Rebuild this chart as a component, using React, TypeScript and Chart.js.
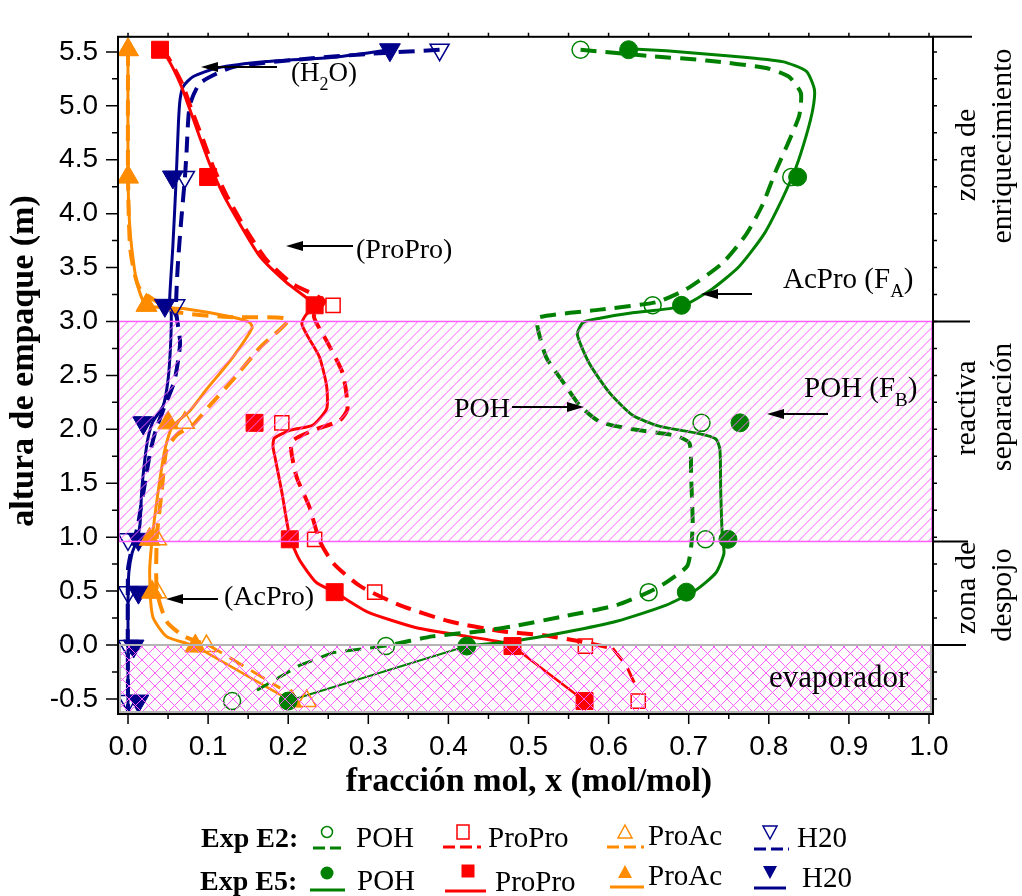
import React, { useEffect, useRef } from 'react';
import { Chart, registerables } from 'chart.js';

Chart.register(...registerables);

// ---------- axis ticks ----------
const xTickValues = [0, 0.1, 0.2, 0.3, 0.4, 0.5, 0.6, 0.7, 0.8, 0.9, 1.0];
const yTickValues = [-0.5, 0, 0.5, 1, 1.5, 2, 2.5, 3, 3.5, 4, 4.5, 5, 5.5];

// ---------- column zones (m) ----------
const reactiveZone = [0.96, 3.0];
const evaporatorZone = [-0.64, 0.0];
const bracketLevels = [5.64, 3.0, 0.96, 0.0];

// ---------- experimental stage heights (m) ----------
const stageHeights = [5.52, 4.34, 3.15, 2.06, 0.98, 0.49, -0.01, -0.52];

// Exp E5 (filled markers)
const pohE5 = [0.625, 0.836, 0.691, 0.764, 0.749, 0.697, 0.423, 0.2];
const proproE5 = [0.04, 0.1, 0.233, 0.158, 0.202, 0.258, 0.48, 0.57];
const proacE5 = [0.0, 0.0, 0.023, 0.05, 0.027, 0.03, 0.084, 0.204];
const h2oE5 = [0.327, 0.056, 0.046, 0.019, 0.013, 0.013, 0.007, 0.013];

// Exp E2 (open markers)
const pohE2 = [0.565, 0.828, 0.655, 0.716, 0.721, 0.65, 0.322, 0.13];
const proproE2 = [0.04, 0.1, 0.256, 0.192, 0.233, 0.308, 0.571, 0.637];
const proacE2 = [0.0, 0.0, 0.023, 0.071, 0.036, 0.036, 0.098, 0.223];
const h2oE2 = [0.389, 0.071, 0.059, 0.019, 0.0, 0.0, 0.0, 0.0];

// ---------- simulated profiles [x, height] ----------
const pohE5Profile: number[][] = [
  [0.625, 5.53], [0.672, 5.51], [0.755, 5.46], [0.817, 5.41], [0.847, 5.32], [0.857, 5.15],
  [0.855, 4.97], [0.847, 4.73], [0.834, 4.43], [0.817, 4.14], [0.794, 3.81], [0.763, 3.51],
  [0.729, 3.3], [0.691, 3.14], [0.63, 3.08], [0.589, 3.03], [0.568, 2.99], [0.561, 2.88],
  [0.576, 2.61], [0.601, 2.34], [0.63, 2.13], [0.663, 2.03], [0.713, 1.96], [0.734, 1.91],
  [0.739, 1.81], [0.74, 1.42], [0.742, 1.0], [0.744, 0.85], [0.734, 0.67], [0.709, 0.51],
  [0.672, 0.37], [0.61, 0.22], [0.547, 0.12], [0.485, 0.04], [0.423, -0.01],
];
const pohE5Evap: number[][] = [[0.423, -0.01], [0.2, -0.52]];

const pohE2Profile: number[][] = [
  [0.565, 5.52], [0.655, 5.46], [0.722, 5.42], [0.797, 5.35], [0.825, 5.27], [0.84, 5.12],
  [0.838, 4.91], [0.825, 4.67], [0.809, 4.4], [0.792, 4.08], [0.772, 3.81], [0.742, 3.54],
  [0.697, 3.3], [0.66, 3.18], [0.589, 3.11], [0.514, 3.04], [0.511, 2.96], [0.522, 2.67],
  [0.543, 2.44], [0.564, 2.22], [0.589, 2.07], [0.63, 2.0], [0.684, 1.94], [0.701, 1.87],
  [0.703, 1.57], [0.705, 1.12], [0.703, 0.91], [0.698, 0.73], [0.672, 0.58], [0.65, 0.49],
  [0.61, 0.37], [0.547, 0.27], [0.485, 0.18], [0.443, 0.13], [0.38, 0.08], [0.322, -0.01],
];
const pohE2Evap: number[][] = [[0.322, -0.01], [0.256, -0.07], [0.214, -0.19], [0.161, -0.42]];

const proproE5Profile: number[][] = [
  [0.04, 5.52], [0.048, 5.46], [0.065, 5.21], [0.077, 4.97], [0.09, 4.7], [0.102, 4.46],
  [0.118, 4.19], [0.14, 3.9], [0.165, 3.6], [0.198, 3.36], [0.233, 3.15], [0.222, 3.06],
  [0.217, 2.98], [0.223, 2.88], [0.239, 2.67], [0.248, 2.4], [0.248, 2.19], [0.231, 2.04],
  [0.202, 1.99], [0.183, 1.92], [0.181, 1.84], [0.183, 1.76], [0.192, 1.42], [0.202, 1.0],
  [0.214, 0.79], [0.235, 0.58], [0.258, 0.49], [0.298, 0.31], [0.36, 0.16], [0.423, 0.08],
  [0.464, 0.03], [0.48, -0.01],
];
const proproE5Evap: number[][] = [[0.48, -0.01], [0.57, -0.52]];

const proproE2Profile: number[][] = [
  [0.04, 5.52], [0.05, 5.45], [0.068, 5.2], [0.08, 4.95], [0.094, 4.68], [0.106, 4.44],
  [0.123, 4.17], [0.145, 3.88], [0.172, 3.58], [0.205, 3.35], [0.245, 3.19], [0.232, 3.05],
  [0.248, 2.82], [0.268, 2.52], [0.274, 2.19], [0.264, 2.08], [0.231, 1.99], [0.204, 1.88],
  [0.21, 1.57], [0.227, 1.27], [0.239, 0.97], [0.256, 0.76], [0.289, 0.55], [0.339, 0.37],
  [0.401, 0.22], [0.464, 0.13], [0.518, 0.09], [0.56, 0.04], [0.605, -0.03],
];
const proproE2Evap: number[][] = [[0.605, -0.03], [0.622, -0.19], [0.632, -0.35]];

const proacE5Profile: number[][] = [
  [0.0, 5.52], [0.0, 4.34], [0.002, 3.9], [0.005, 3.66], [0.011, 3.36], [0.023, 3.15],
  [0.069, 3.12], [0.131, 3.04], [0.152, 2.99], [0.155, 2.94], [0.131, 2.67], [0.098, 2.37],
  [0.077, 2.17], [0.055, 2.02], [0.046, 1.81], [0.037, 1.39], [0.03, 0.97], [0.027, 0.67],
  [0.031, 0.26], [0.048, 0.08], [0.073, 0.015], [0.084, -0.01],
];
const proacE5Evap: number[][] = [[0.084, -0.01], [0.204, -0.52]];

const proacE2Profile: number[][] = [
  [0.0, 5.52], [0.0, 4.34], [0.003, 3.66], [0.015, 3.3], [0.061, 3.09], [0.131, 3.04],
  [0.2, 3.02], [0.165, 2.76], [0.131, 2.46], [0.102, 2.22], [0.081, 2.04], [0.061, 1.95],
  [0.048, 1.81], [0.042, 1.42], [0.036, 1.0], [0.036, 0.5], [0.048, 0.22], [0.07, 0.08],
  [0.1, 0.0],
];
const proacE2Evap: number[][] = [[0.1, 0.0], [0.123, -0.1], [0.19, -0.4]];

const h2oE5Profile: number[][] = [
  [0.327, 5.52], [0.256, 5.45], [0.173, 5.41], [0.111, 5.35], [0.081, 5.27], [0.069, 5.18],
  [0.065, 5.06], [0.063, 4.85], [0.06, 4.3], [0.056, 3.7], [0.052, 3.2], [0.054, 3.06],
  [0.053, 2.76], [0.05, 2.46], [0.044, 2.22], [0.031, 2.07], [0.025, 1.92], [0.021, 1.72],
  [0.017, 1.42], [0.015, 1.12], [0.011, 0.97], [0.005, 0.85], [0.001, 0.67], [0.0, 0.37],
  [0.0, -0.64],
];
const h2oE2Profile: number[][] = [
  [0.389, 5.52], [0.298, 5.48], [0.214, 5.43], [0.131, 5.36], [0.09, 5.21], [0.077, 5.0],
  [0.073, 4.56], [0.071, 4.33], [0.066, 3.9], [0.062, 3.5], [0.06, 3.1], [0.065, 2.8],
  [0.058, 2.45], [0.045, 2.2], [0.035, 2.0], [0.028, 1.8], [0.02, 1.45], [0.012, 1.1],
  [0.005, 0.9], [0.0, 0.7], [0.0, -0.64],
];

// ---------- styles ----------
const GREEN = '#008000';
const RED = '#ff0000';
const ORANGE = '#ff8c00';
const NAVY = '#00008b';
const MAGENTA = '#ff5cff';
const SERIF = '"Liberation Serif", "Times New Roman", serif';
const SANS = '"Liberation Sans", Arial, sans-serif';

const toPts = (arr: number[][]) => arr.map(([x, y]) => ({ x, y }));

function lineSet(arr: number[][], color: string, dashed: boolean, width: number, tension = 0.2) {
  return {
    data: toPts(arr),
    showLine: true,
    borderColor: color,
    backgroundColor: color,
    borderWidth: width,
    borderDash: dashed ? [16, 9] : [],
    pointRadius: 0,
    pointHoverRadius: 0,
    tension,
    fill: false,
    order: 2,
  };
}

function markerSet(xs: number[], color: string, style: string, rotation: number, filled: boolean, radius: number) {
  return {
    data: xs.map((x, i) => ({ x, y: stageHeights[i] })),
    showLine: false,
    pointStyle: style,
    pointRotation: rotation,
    pointRadius: radius,
    pointHoverRadius: radius,
    pointBackgroundColor: filled ? color : 'rgba(0,0,0,0)',
    pointBorderColor: color,
    pointBorderWidth: filled ? 1 : 1.5,
    order: filled ? 0 : 1,
  };
}

// hatch lines drawn directly, clipped to the zone rectangle
function hatchRect(ctx: CanvasRenderingContext2D, l: number, t: number, r: number, b: number, spacing: number, cross: boolean) {
  ctx.save();
  ctx.beginPath();
  ctx.rect(l, t, r - l, b - t);
  ctx.clip();
  ctx.strokeStyle = MAGENTA;
  ctx.lineWidth = 1;
  ctx.beginPath();
  const h = b - t;
  for (let x0 = l - h - spacing; x0 < r + spacing; x0 += spacing) {
    ctx.moveTo(x0, b);
    ctx.lineTo(x0 + h, t);
    if (cross) {
      ctx.moveTo(x0, t);
      ctx.lineTo(x0 + h, b);
    }
  }
  ctx.stroke();
  ctx.restore();
}

function arrow(ctx: CanvasRenderingContext2D, x1: number, y1: number, x2: number, y2: number) {
  const dir = Math.sign(x2 - x1);
  ctx.strokeStyle = '#000';
  ctx.fillStyle = '#000';
  ctx.lineWidth = 2;
  ctx.beginPath();
  ctx.moveTo(x1, y1);
  ctx.lineTo(x2 - dir * 10, y2);
  ctx.stroke();
  ctx.beginPath();
  ctx.moveTo(x2, y2);
  ctx.lineTo(x2 - dir * 17, y2 - 5);
  ctx.lineTo(x2 - dir * 17, y2 + 5);
  ctx.closePath();
  ctx.fill();
}

function txt(ctx: CanvasRenderingContext2D, s: string, x: number, y: number, font: string, align: CanvasTextAlign = 'left') {
  ctx.font = font;
  ctx.textAlign = align;
  ctx.textBaseline = 'alphabetic';
  ctx.fillStyle = '#000';
  ctx.fillText(s, x, y);
  return ctx.measureText(s).width;
}

// text with a subscript: [main, sub, main]
function txtSub(ctx: CanvasRenderingContext2D, a: string, sub: string, b: string, x: number, y: number, size: number) {
  let cx = x;
  cx += txt(ctx, a, cx, y, `${size}px ${SERIF}`);
  cx += txt(ctx, sub, cx, y + 9, `${Math.round(size * 0.66)}px ${SERIF}`);
  txt(ctx, b, cx, y, `${size}px ${SERIF}`);
}

function vtxt(ctx: CanvasRenderingContext2D, s: string, x: number, y: number, font: string) {
  ctx.save();
  ctx.translate(x, y);
  ctx.rotate(-Math.PI / 2);
  txt(ctx, s, 0, 0, font, 'center');
  ctx.restore();
}

function legendMarker(ctx: CanvasRenderingContext2D, kind: string, x: number, y: number, color: string, filled: boolean) {
  ctx.save();
  ctx.strokeStyle = color;
  ctx.fillStyle = color;
  ctx.lineWidth = 1.5;
  ctx.beginPath();
  if (kind === 'circle') {
    ctx.arc(x, y, filled ? 6.5 : 5.5, 0, Math.PI * 2);
  } else if (kind === 'square') {
    const h = filled ? 6.5 : 6;
    ctx.rect(x - h, y - h - (filled ? 0 : 1), 2 * h, 2 * h + (filled ? 0 : 2));
  } else if (kind === 'up') {
    ctx.moveTo(x, y - 7); ctx.lineTo(x + 7, y + 6); ctx.lineTo(x - 7, y + 6); ctx.closePath();
  } else {
    ctx.moveTo(x, y + 7); ctx.lineTo(x + 7, y - 6); ctx.lineTo(x - 7, y - 6); ctx.closePath();
  }
  if (filled) ctx.fill(); else ctx.stroke();
  ctx.restore();
}

function legendLine(ctx: CanvasRenderingContext2D, x1: number, x2: number, y: number, color: string, dashed: boolean) {
  ctx.save();
  ctx.strokeStyle = color;
  ctx.lineWidth = 3;
  ctx.setLineDash(dashed ? [12, 5] : []);
  ctx.beginPath();
  ctx.moveTo(x1, y);
  ctx.lineTo(x2, y);
  ctx.stroke();
  ctx.restore();
}

const decorPlugin = {
  id: 'decor',
  afterDatasetsDraw(chart: any) {
    const ctx: CanvasRenderingContext2D = chart.ctx;
    const ca = chart.chartArea;
    const xs = chart.scales.x;
    const ys = chart.scales.y;
    const X = (v: number) => xs.getPixelForValue(v);
    const Y = (v: number) => ys.getPixelForValue(v);
    ctx.save();

    // reactive zone (hatched)
    const rT = Y(reactiveZone[1]);
    const rB = Y(reactiveZone[0]);
    hatchRect(ctx, ca.left, rT, ca.right, rB, 10, false);
    ctx.strokeStyle = MAGENTA;
    ctx.lineWidth = 1.5;
    ctx.strokeRect(ca.left + 1, rT, ca.right - ca.left - 2, rB - rT);

    // evaporator (cross hatched)
    const eT = Y(evaporatorZone[1]);
    const eB = ca.bottom;
    hatchRect(ctx, ca.left, eT, ca.right, eB, 13, true);
    ctx.strokeStyle = '#b4b4b4';
    ctx.lineWidth = 2;
    ctx.strokeRect(ca.left + 2, eT, ca.right - ca.left - 4, eB - eT - 2);

    // frame
    ctx.strokeStyle = '#000';
    ctx.lineWidth = 2;
    ctx.strokeRect(ca.left, ca.top, ca.right - ca.left, ca.bottom - ca.top);

    // ticks
    ctx.lineWidth = 1.5;
    ctx.beginPath();
    xTickValues.forEach((v, i) => {
      const px = X(v);
      ctx.moveTo(px, ca.bottom); ctx.lineTo(px, ca.bottom + 10);
      ctx.moveTo(px, ca.top); ctx.lineTo(px, ca.top - 4);
      if (i < xTickValues.length - 1) {
        const pm = X((v + xTickValues[i + 1]) / 2);
        ctx.moveTo(pm, ca.bottom); ctx.lineTo(pm, ca.bottom + 5);
        ctx.moveTo(pm, ca.top); ctx.lineTo(pm, ca.top - 4);
      }
    });
    yTickValues.forEach((v, i) => {
      const py = Y(v);
      ctx.moveTo(ca.left, py); ctx.lineTo(ca.left - 12, py);
      ctx.moveTo(ca.right, py); ctx.lineTo(ca.right + 4, py);
      if (i < yTickValues.length - 1) {
        const pm = Y((v + yTickValues[i + 1]) / 2);
        ctx.moveTo(ca.left, pm); ctx.lineTo(ca.left - 6, pm);
        ctx.moveTo(ca.right, pm); ctx.lineTo(ca.right + 4, pm);
      }
    });
    ctx.stroke();

    // right-hand zone brackets
    ctx.lineWidth = 2;
    ctx.beginPath();
    const ends = [972, 970, 968, 966];
    bracketLevels.forEach((v, i) => {
      const py = Math.max(Y(v), ca.top);
      ctx.moveTo(ca.right, py);
      ctx.lineTo(ends[i], py);
    });
    ctx.stroke();

    // zone labels (vertical)
    const zf = `30px ${SERIF}`;
    vtxt(ctx, 'zona de', 975, 155, zf);
    vtxt(ctx, 'enriquecimiento', 1011, 146, zf);
    vtxt(ctx, 'reactiva', 975, 408, zf);
    vtxt(ctx, 'separación', 1011, 407, zf);
    vtxt(ctx, 'zona de', 975, 588, zf);
    vtxt(ctx, 'despojo', 1011, 595, zf);

    // annotations
    txtSub(ctx, '(H', '2', 'O)', 291, 81, 27);
    arrow(ctx, 277, 67, 201, 67);
    txt(ctx, '(ProPro)', 356, 258, `28px ${SERIF}`);
    arrow(ctx, 353, 246, 286, 246);
    txtSub(ctx, 'AcPro (F', 'A', ')', 783, 288, 29);
    arrow(ctx, 752, 294, 701, 294);
    txtSub(ctx, 'POH (F', 'B', ')', 804, 397, 29);
    arrow(ctx, 828, 414, 767, 414);
    txt(ctx, 'POH', 454, 417, `28px ${SERIF}`);
    arrow(ctx, 512, 407, 584, 407);
    txt(ctx, '(AcPro)', 224, 605, `28px ${SERIF}`);
    arrow(ctx, 218, 599, 166, 599);
    txt(ctx, 'evaporador', 769, 687, `31px ${SERIF}`);

    // axis titles
    txt(ctx, 'fracción mol, x (mol/mol)', 529, 791, `bold 34px ${SERIF}`, 'center');
    vtxt(ctx, 'altura de empaque (m)', 33, 361, `bold 34px ${SERIF}`);

    // legend
    const lf = `29px ${SERIF}`;
    txt(ctx, 'Exp E2:', 201, 847, `bold 28px ${SERIF}`);
    txt(ctx, 'Exp E5:', 200, 890, `bold 28px ${SERIF}`);
    // E2 row
    legendMarker(ctx, 'circle', 327, 832, GREEN, false);
    legendLine(ctx, 313, 341, 848, GREEN, true);
    txt(ctx, 'POH', 356, 847, lf);
    legendMarker(ctx, 'square', 463, 832, RED, false);
    legendLine(ctx, 443, 481, 847, RED, true);
    txt(ctx, 'ProPro', 488, 847, lf);
    legendMarker(ctx, 'up', 625, 832, ORANGE, false);
    legendLine(ctx, 607, 644, 847, ORANGE, true);
    txt(ctx, 'ProAc', 648, 845, lf);
    legendMarker(ctx, 'down', 770, 832, NAVY, false);
    legendLine(ctx, 754, 789, 849, NAVY, true);
    txt(ctx, 'H20', 797, 847, lf);
    // E5 row
    legendMarker(ctx, 'circle', 327, 873, GREEN, true);
    legendLine(ctx, 310, 345, 890, GREEN, false);
    txt(ctx, 'POH', 357, 890, lf);
    legendMarker(ctx, 'square', 468, 871, RED, true);
    legendLine(ctx, 445, 486, 891, RED, false);
    txt(ctx, 'ProPro', 495, 891, lf);
    legendMarker(ctx, 'up', 625, 872, ORANGE, true);
    legendLine(ctx, 610, 644, 887, ORANGE, false);
    txt(ctx, 'ProAc', 648, 885, lf);
    legendMarker(ctx, 'down', 770, 872, NAVY, true);
    legendLine(ctx, 754, 786, 888, NAVY, false);
    txt(ctx, 'H20', 802, 887, lf);

    ctx.restore();
  },
};

export default function App() {
  const canvasRef = useRef<HTMLCanvasElement | null>(null);

  useEffect(() => {
    const canvas = canvasRef.current;
    if (!canvas) return;

    const datasets: any[] = [
      // filled markers (E5) on top
      markerSet(pohE5, GREEN, 'circle', 0, true, 9),
      markerSet(proproE5, RED, 'rect', 0, true, 12),
      markerSet(proacE5, ORANGE, 'triangle', 0, true, 12),
      markerSet(h2oE5, NAVY, 'triangle', 180, true, 12),
      // open markers (E2)
      markerSet(pohE2, GREEN, 'circle', 0, false, 8.5),
      markerSet(proproE2, RED, 'rect', 0, false, 10),
      markerSet(proacE2, ORANGE, 'triangle', 0, false, 11),
      markerSet(h2oE2, NAVY, 'triangle', 180, false, 11),
      // simulated profiles
      lineSet(pohE5Profile, GREEN, false, 3),
      lineSet(pohE5Evap, GREEN, false, 2, 0),
      lineSet(pohE2Profile, GREEN, true, 4),
      lineSet(pohE2Evap, GREEN, true, 3, 0),
      lineSet(proproE5Profile, RED, false, 3),
      lineSet(proproE5Evap, RED, false, 2.5, 0),
      lineSet(proproE2Profile, RED, true, 4),
      lineSet(proproE2Evap, RED, true, 3, 0),
      lineSet(proacE5Profile, ORANGE, false, 3),
      lineSet(proacE5Evap, ORANGE, false, 2.5, 0),
      lineSet(proacE2Profile, ORANGE, true, 4),
      lineSet(proacE2Evap, ORANGE, true, 3, 0),
      lineSet(h2oE5Profile, NAVY, false, 3),
      lineSet(h2oE2Profile, NAVY, true, 4),
    ];

    const chart = new Chart(canvas, {
      type: 'scatter',
      data: { datasets },
      options: {
        animation: false,
        responsive: false,
        devicePixelRatio: 1,
        events: [],
        layout: { padding: { left: 0, right: 89, top: 12, bottom: 0 } },
        plugins: { legend: { display: false }, tooltip: { enabled: false } },
        scales: {
          x: {
            type: 'linear',
            min: -0.0125,
            max: 1.005,
            afterBuildTicks: (s: any) => { s.ticks = xTickValues.map((v) => ({ value: v })); },
            afterFit: (s: any) => { s.height = 182; },
            grid: { display: false, drawTicks: false },
            border: { display: false },
            ticks: {
              color: '#000',
              font: { family: SANS, size: 28, lineHeight: 1.2 },
              padding: 16,
              maxRotation: 0,
              autoSkip: false,
              callback: (v: any) => Number(v).toFixed(1),
            },
          },
          y: {
            type: 'linear',
            min: -0.64,
            max: 5.64,
            afterBuildTicks: (s: any) => { s.ticks = yTickValues.map((v) => ({ value: v })); },
            afterFit: (s: any) => { s.width = 118; },
            grid: { display: false, drawTicks: false },
            border: { display: false },
            ticks: {
              color: '#000',
              font: { family: SANS, size: 28, lineHeight: 1.2 },
              padding: 20,
              autoSkip: false,
              callback: (v: any) => Number(v).toFixed(1),
            },
          },
        },
      } as any,
      plugins: [decorPlugin],
    });

    return () => chart.destroy();
  }, []);

  return (
    <div style={{ position: 'absolute', left: 0, top: 0, width: 1022, height: 896, background: '#fff' }}>
      <canvas ref={canvasRef} width={1022} height={896} style={{ display: 'block', width: 1022, height: 896 }} />
    </div>
  );
}
